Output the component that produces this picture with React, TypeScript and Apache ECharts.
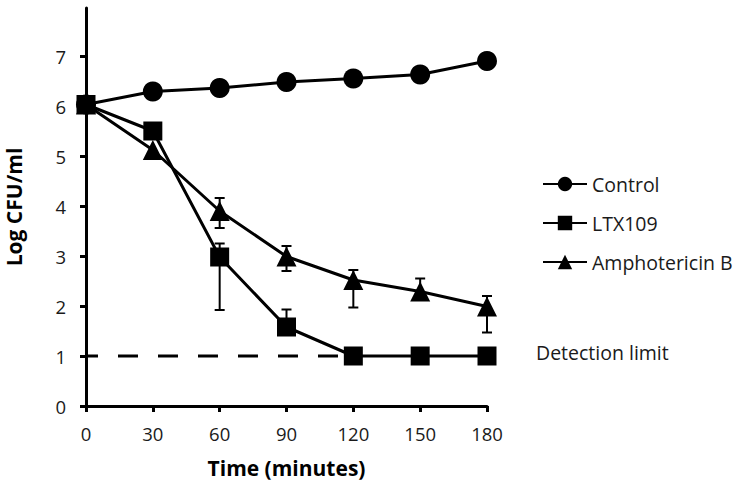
import React, { useEffect, useRef } from "react";
import * as echarts from "echarts";

const times = [0, 30, 60, 90, 120, 150, 180];
const control = [6.03, 6.29, 6.36, 6.48, 6.55, 6.63, 6.9];
const ltx109 = [6.03, 5.5, 2.98, 1.58, 1, 1, 1];
const amphoB = [6.03, 5.12, 3.9, 2.99, 2.52, 2.29, 1.99];

// error bar bounds (null = not visible)
const controlErrLow = [5.9, null, null, null, null, null, null];
const controlErrHigh = [6.14, null, null, null, null, null, null];
const ltxErrLow = [null, null, 1.92, null, null, null, null];
const ltxErrHigh = [null, null, 3.25, 1.93, null, null, null];
const amphoErrLow = [null, null, 3.56, 2.7, 1.97, null, 1.47];
const amphoErrHigh = [null, null, 4.16, 3.2, 2.72, 2.55, 2.2];

const yTicks = [0, 1, 2, 3, 4, 5, 6, 7];
const detectionLimit = 1;
const detectionEnd = 120;

const FONT = "'Open Sans', 'DejaVu Sans', sans-serif";

function buildErr(vals: number[], lo: (number | null)[], hi: (number | null)[]) {
  const out: number[][] = [];
  times.forEach((t, i) => {
    if (lo[i] == null && hi[i] == null) return;
    const l = lo[i] == null ? vals[i] : (lo[i] as number);
    const h = hi[i] == null ? vals[i] : (hi[i] as number);
    out.push([t, l, h, lo[i] == null ? 0 : 1, hi[i] == null ? 0 : 1]);
  });
  return out;
}

const errData = [
  ...buildErr(control, controlErrLow, controlErrHigh),
  ...buildErr(ltx109, ltxErrLow, ltxErrHigh),
  ...buildErr(amphoB, amphoErrLow, amphoErrHigh),
];

export default function App() {
  const ref = useRef<HTMLDivElement>(null);
  useEffect(() => {
    if (!ref.current) return;
    const chart = echarts.init(ref.current, null, { renderer: "svg" });
    const lineStyle = { color: "#000", width: 3 };
    chart.setOption({
      animation: false,
      backgroundColor: "#fff",
      textStyle: { fontFamily: FONT },
      grid: { left: 86, right: 249, top: 8, bottom: 81, containLabel: false, outerBoundsMode: "none" },
      legend: {
        orient: "vertical",
        left: 537,
        top: 169,
        itemWidth: 44,
        itemHeight: 18,
        itemGap: 19,
        data: ["Control", "LTX109", "Amphotericin B"],
        textStyle: { fontFamily: FONT, fontSize: 19.5, color: "#1a1a1a" },
      },
      xAxis: {
        type: "value",
        min: 0,
        max: 180,
        interval: 30,
        name: "Time (minutes)",
        nameLocation: "middle",
        nameGap: 51,
        nameTextStyle: { fontFamily: FONT, fontSize: 21, fontWeight: "bold", color: "#000" },
        axisLine: { show: true, lineStyle: { color: "#000", width: 3 } },
        axisTick: { show: true, length: 6, lineStyle: { color: "#000", width: 3 } },
        axisLabel: { fontFamily: FONT, fontSize: 18.5, color: "#1a1a1a", margin: 18 },
        splitLine: { show: false },
      },
      yAxis: {
        type: "value",
        min: 0,
        max: 7.96,
        name: "Log CFU/ml",
        nameLocation: "middle",
        nameGap: 62,
        nameTextStyle: { fontFamily: FONT, fontSize: 21, fontWeight: "bold", color: "#000" },
        axisLine: { show: true, lineStyle: { color: "#000", width: 3 } },
        axisTick: { show: true, length: 6, customValues: yTicks, lineStyle: { color: "#000", width: 3 } },
        axisLabel: { fontFamily: FONT, fontSize: 18.5, color: "#1a1a1a", margin: 20, customValues: yTicks },
        splitLine: { show: false },
      },
      graphic: [
        {
          type: "text",
          left: 536,
          top: 342,
          style: { text: "Detection limit", font: `19.5px ${FONT}`, fill: "#1a1a1a" },
        },
      ],
      series: [
        {
          name: "detection",
          type: "line",
          data: [
            [0, detectionLimit],
            [detectionEnd, detectionLimit],
          ],
          symbol: "none",
          z: 1,
          lineStyle: { color: "#000", width: 3, type: [20, 20], dashOffset: 8 },
          silent: true,
        },
        {
          name: "errors",
          type: "custom",
          z: 2,
          data: errData,
          renderItem: (params: any, api: any) => {
            const x = api.value(0);
            const lo = api.coord([x, api.value(1)]);
            const hi = api.coord([x, api.value(2)]);
            const cap = 5;
            const children: any[] = [
              { type: "line", shape: { x1: lo[0], y1: lo[1], x2: hi[0], y2: hi[1] }, style: { stroke: "#000", lineWidth: 2 } },
            ];
            if (api.value(3)) children.push({ type: "line", shape: { x1: lo[0] - cap, y1: lo[1], x2: lo[0] + cap, y2: lo[1] }, style: { stroke: "#000", lineWidth: 2 } });
            if (api.value(4)) children.push({ type: "line", shape: { x1: hi[0] - cap, y1: hi[1], x2: hi[0] + cap, y2: hi[1] }, style: { stroke: "#000", lineWidth: 2 } });
            return { type: "group", children };
          },
          silent: true,
        },
        {
          name: "Control",
          type: "line",
          z: 3,
          data: times.map((t, i) => [t, control[i]]),
          symbol: "circle",
          symbolSize: 20,
          itemStyle: { color: "#000" },
          lineStyle,
        },
        {
          name: "LTX109",
          type: "line",
          z: 3,
          data: times.map((t, i) => [t, ltx109[i]]),
          symbol: "rect",
          symbolSize: 19,
          itemStyle: { color: "#000" },
          lineStyle,
        },
        {
          name: "Amphotericin B",
          type: "line",
          z: 3,
          data: times.map((t, i) => [t, amphoB[i]]),
          symbol: "triangle",
          symbolSize: 20,
          itemStyle: { color: "#000" },
          lineStyle,
        },
      ],
    });
    return () => chart.dispose();
  }, []);
  return <div ref={ref} style={{ width: 736, height: 487, position: "absolute", left: 0, top: 0 }} />;
}
